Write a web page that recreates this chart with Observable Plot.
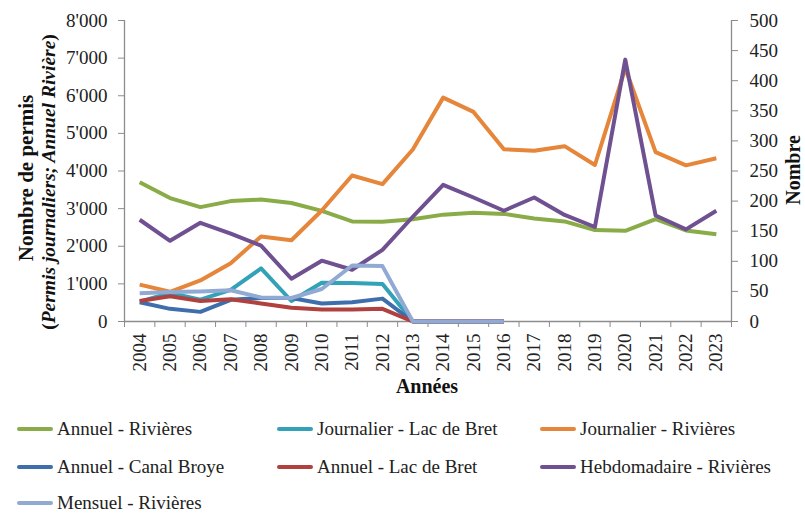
<!DOCTYPE html>
<html>
<head>
<meta charset="utf-8">
<script src="https://cdn.jsdelivr.net/npm/d3@7"></script>
<script src="https://cdn.jsdelivr.net/npm/@observablehq/plot@0.6"></script>
<style>
  html, body { margin: 0; padding: 0; background: #fff; }
  body { width: 805px; height: 513px; position: relative; overflow: hidden; font-family: "Liberation Serif", "Times New Roman", serif; }
  #chart { position: absolute; left: 0; top: 0; }
  #chart svg, #chart svg text { font-family: "Liberation Serif", "Times New Roman", serif !important; }
  .leg { position: absolute; display: flex; align-items: center; font-family: "Liberation Serif", "Times New Roman", serif !important; font-size: 19px; color: #222; white-space: nowrap; }
  .leg .sw { width: 36px; height: 4px; border-radius: 2px; margin-right: 4px; }
</style>
</head>
<body>
<div id="chart"></div>
<div id="legend"></div>
<script>
// ---- Data ----
const years = [2004, 2005, 2006, 2007, 2008, 2009, 2010, 2011, 2012, 2013, 2014, 2015, 2016, 2017, 2018, 2019, 2020, 2021, 2022, 2023];

// Left axis (Nombre de permis)
const annuelRivieres      = [3700, 3280, 3040, 3200, 3240, 3150, 2940, 2660, 2650, 2720, 2840, 2890, 2860, 2740, 2660, 2430, 2410, 2720, 2420, 2320];
const journalierLacBret   = [530, 760, 580, 840, 1410, 545, 1030, 1025, 995, 0, 0, 0, 0, null, null, null, null, null, null, null];
const journalierRivieres  = [980, 790, 1090, 1550, 2260, 2160, 2950, 3880, 3650, 4570, 5950, 5570, 4580, 4540, 4660, 4160, 6730, 4500, 4150, 4340];
// Right axis (Nombre)
const annuelCanalBroye    = [32, 21, 16, 36, 39, 39, 30, 32, 38, 0, 0, 0, 0, null, null, null, null, null, null, null];
const annuelLacBret       = [34, 42, 34, 37, 30, 23, 20, 20, 21, 0, 0, 0, 0, null, null, null, null, null, null, null];
const hebdoRivieres       = [169, 134, 164, 146, 126, 71, 101, 86, 119, 174, 227, 206, 184, 206, 177, 157, 435, 176, 153, 184];
const mensuelRivieres     = [47, 49, 50, 52, 40, 39, 54, 93, 92, 0, 0, 0, 0, null, null, null, null, null, null, null];

const seriesNames  = ["Annuel - Rivières", "Journalier - Lac de Bret", "Journalier - Rivières", "Annuel - Canal Broye", "Annuel - Lac de Bret", "Hebdomadaire - Rivières", "Mensuel - Rivières"];
const seriesValues = [annuelRivieres, journalierLacBret, journalierRivieres, annuelCanalBroye, annuelLacBret, hebdoRivieres, mensuelRivieres];
const seriesAxis   = ["left", "left", "left", "right", "right", "right", "right"];
const seriesColors = ["#8AAC48", "#33A1B8", "#E5863A", "#3E6EAB", "#B0413F", "#6F5091", "#90AAD4"];

const leftTicks  = [0, 1000, 2000, 3000, 4000, 5000, 6000, 7000, 8000];
const rightTicks = [0, 50, 100, 150, 200, 250, 300, 350, 400, 450, 500];
const leftMax = 8000, rightMax = 500;
const ratio = leftMax / rightMax;

// ---- Build tidy table ----
const rows = [];
seriesNames.forEach((name, i) => {
  years.forEach((yr, j) => {
    rows.push({ series: name, year: yr, value: seriesValues[i][j], axis: seriesAxis[i] });
  });
});

const locale = d3.formatLocale({ decimal: ".", thousands: "'", grouping: [3], currency: ["", ""] });
const fmt = locale.format(",d");

const bounds = [years[0] - 0.5, ...years.map(y => y + 0.5)];
const axisColor = "#8c8c8c";
const FONT = "Liberation Serif, Times New Roman, serif";

const chart = Plot.plot({
  width: 805,
  height: 405,
  marginLeft: 124,
  marginRight: 74,
  marginTop: 20,
  marginBottom: 84,
  style: { fontFamily: FONT, fontSize: "19px", color: "#222", background: "transparent" },
  x: { type: "linear", domain: [years[0] - 0.5, years[years.length - 1] + 0.5] },
  y: { domain: [0, leftMax] },
  color: { domain: seriesNames, range: seriesColors },
  marks: [
    Plot.axisY({ anchor: "left", ticks: leftTicks, tickFormat: fmt, tickSize: 6, tickPadding: 11, stroke: axisColor, label: null, fontSize: 19, fontFamily: FONT }),
    Plot.axisY({ anchor: "right", ticks: rightTicks.map(v => v * ratio), tickFormat: d => fmt(d / ratio), tickSize: 6, tickPadding: 12, stroke: axisColor, label: null, fontSize: 19, fontFamily: FONT }),
    Plot.axisX({ ticks: bounds, tickFormat: () => "", tickSize: 6, stroke: axisColor, label: null }),
    Plot.axisX({ ticks: years, tickFormat: d => String(d), tickSize: 0, tickPadding: 12, tickRotate: -90, label: null, fontSize: 19, fontFamily: FONT }),
    Plot.ruleY([0], { stroke: axisColor, strokeWidth: 1.3 }),
    Plot.ruleX([bounds[0], bounds[bounds.length - 1]], { stroke: axisColor, strokeWidth: 1.3 }),
    Plot.line(rows, {
      x: "year",
      y: d => d.value == null ? NaN : (d.axis === "right" ? d.value * ratio : d.value),
      z: "series",
      stroke: "series",
      strokeWidth: 4,
      strokeLinejoin: "round",
      strokeLinecap: "butt",
      curve: "linear"
    })
  ]
});

document.getElementById("chart").appendChild(chart);

// ---- Axis titles ----
const svg = d3.select(chart);
svg.append("text")
  .attr("transform", "translate(33,178) rotate(-90)")
  .attr("text-anchor", "middle")
  .style("font-size", "21px").style("font-weight", "bold").attr("fill", "#111")
  .text("Nombre de permis");
const t2 = svg.append("text")
  .attr("transform", "translate(55,182) rotate(-90)")
  .attr("text-anchor", "middle")
  .style("font-size", "19.5px").style("font-weight", "bold").attr("fill", "#111");
t2.append("tspan").text("(");
t2.append("tspan").style("font-style", "italic").text("Permis journaliers; Annuel Rivière");
t2.append("tspan").text(")");
svg.append("text")
  .attr("transform", "translate(800,170) rotate(-90)")
  .attr("text-anchor", "middle")
  .style("font-size", "20px").style("font-weight", "bold").attr("fill", "#111")
  .text("Nombre");
svg.append("text")
  .attr("x", 427).attr("y", 393)
  .attr("text-anchor", "middle")
  .style("font-size", "20px").style("font-weight", "bold").attr("fill", "#111")
  .text("Années");

// ---- Legend ----
const legCols = [17, 277, 540];
const legRows = [429, 467, 503];
const legend = document.getElementById("legend");
seriesNames.forEach((name, i) => {
  const div = document.createElement("div");
  div.className = "leg";
  div.style.left = legCols[i % 3] + "px";
  div.style.top = (legRows[Math.floor(i / 3)] - 12) + "px";
  div.style.height = "24px";
  const sw = document.createElement("span");
  sw.className = "sw";
  sw.style.background = seriesColors[i];
  const tx = document.createElement("span");
  tx.textContent = name;
  div.appendChild(sw);
  div.appendChild(tx);
  legend.appendChild(div);
});
</script>
</body>
</html>
